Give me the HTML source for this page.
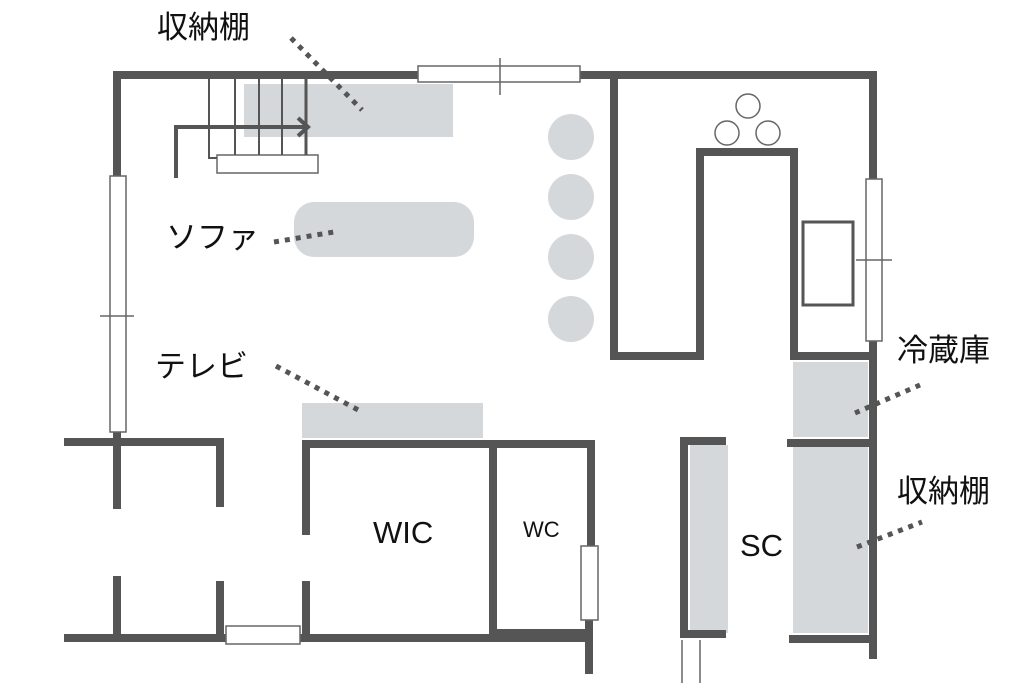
<!DOCTYPE html>
<html><head><meta charset="utf-8"><style>
html,body{margin:0;padding:0;background:#fff;}
svg{display:block}
text{font-family:"Liberation Sans","Noto Sans CJK JP",sans-serif;fill:#111;}
</style></head><body>
<svg width="1024" height="683" viewBox="0 0 1024 683" xmlns="http://www.w3.org/2000/svg">
<!-- gray fills -->
<g fill="#d5d8db">
<rect x="244" y="84" width="209" height="53"/>
<rect x="294" y="202" width="180" height="55" rx="20"/>
<circle cx="571" cy="137" r="23"/>
<circle cx="571" cy="197" r="23"/>
<circle cx="571" cy="257" r="23"/>
<circle cx="571" cy="319" r="23"/>
<rect x="302" y="403" width="181" height="35"/>
<rect x="793" y="362" width="75" height="75"/>
<rect x="793" y="447" width="75" height="186"/>
<rect x="690" y="445" width="38" height="188"/>
</g>
<!-- walls -->
<g stroke="#555" stroke-width="8" fill="none" stroke-linecap="square">
<path d="M117 178 V75 H418"/>
<path d="M580 75 H873 V178"/>
<path d="M873 341 V655"/>
<path d="M117 432 V442"/>
<path d="M68 442 H220 V503"/>
<path d="M117 442 V505"/>
<path d="M117 580 V638"/>
<path d="M220 585 V638"/>
<path d="M68 638 H224"/>
<path d="M300 638 H589 V670"/>
<path d="M306 531 V444 H591 V545"/>
<path d="M306 585 V636"/>
<path d="M493 444 V633 H589"/>
<path d="M589 620 V640"/>
<path d="M614 75 V356 H700 V152 H794 V356 H871"/>
<path d="M791 443 H871"/>
<path d="M793 639 H871"/>
<path d="M722 441 H684 V634 H722"/>
</g>
<!-- windows -->
<g stroke="#666" stroke-width="1.5" fill="#fff">
<rect x="418" y="66" width="162" height="16"/>
<rect x="110" y="176" width="16" height="256"/>
<rect x="866" y="179" width="16" height="162"/>
<rect x="581" y="546" width="17" height="74"/>
<rect x="226" y="626" width="74" height="18"/>
<rect x="803" y="222" width="50" height="83" stroke="#555" stroke-width="3"/>
<rect x="217" y="155" width="101" height="18"/>
</g>
<g stroke="#666" stroke-width="1.5" fill="none">
<path d="M500 58 V95"/>
<path d="M100 316 H134"/>
<path d="M856 260 H892"/>
<path d="M682 640 V683 M700 640 V683"/>
<circle cx="748" cy="106" r="12"/>
<circle cx="727" cy="133" r="12"/>
<circle cx="768" cy="133" r="12"/>
</g>
<!-- stairs -->
<g stroke="#555" stroke-width="2" fill="none">
<path d="M209 78 V158 H217"/>
<path d="M235 78 V155 M259 78 V155 M282 78 V155"/>
<path d="M306 78 V155" stroke-width="3"/>
</g>
<g stroke="#555" stroke-width="4" fill="none">
<path d="M176 178 V127 H308"/>
<path d="M298 118 L308 127 L298 136"/>
</g>
<!-- leader lines -->
<g stroke="#555" stroke-width="5" stroke-dasharray="5 6" fill="none">
<path d="M291 38 L362 110"/>
<path d="M274 242 L334 232"/>
<path d="M276 366 L362 412"/>
<path d="M855 413 L920 385"/>
<path d="M857 547 L922 522"/>
</g>
<!-- labels -->
<text x="157" y="38" font-size="31">収納棚</text>
<text x="166" y="248" font-size="31">ソファ</text>
<text x="155" y="377" font-size="31">テレビ</text>
<text x="897" y="361" font-size="31">冷蔵庫</text>
<text x="897" y="502" font-size="31">収納棚</text>
<text x="373" y="543" font-size="31">WIC</text>
<text x="523" y="537" font-size="22">WC</text>
<text x="740" y="556" font-size="31">SC</text>
</svg>
</body></html>
